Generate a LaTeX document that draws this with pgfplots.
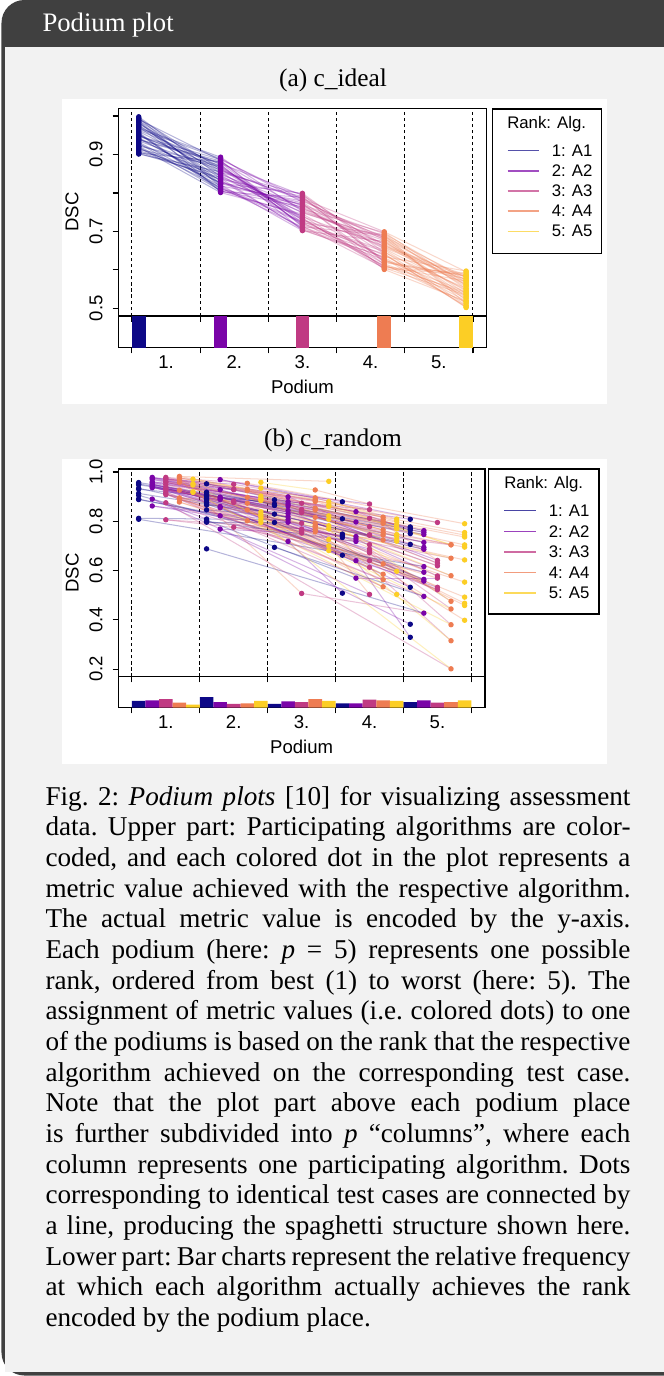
\documentclass[border=0pt]{standalone}
\usepackage{fontspec}
\setmainfont{Liberation Serif}
\setsansfont{Liberation Sans}
\usepackage{pgfplots}
\pgfplotsset{compat=1.18}
\definecolor{c1}{RGB}{13,8,135}
\definecolor{c2}{RGB}{122,4,168}
\definecolor{c3}{RGB}{192,58,131}
\definecolor{c4}{RGB}{238,124,82}
\definecolor{c5}{RGB}{252,206,37}
\definecolor{framecol}{RGB}{64,64,64}
\definecolor{bodycol}{RGB}{242,242,242}
\newcommand\axf{\sffamily\fontsize{7.3}{8.8}\selectfont}
\newcommand\lgf{\sffamily\fontsize{6.6}{8}\selectfont}

% ---------- test case macro: \pcase{rank of A1..A5}{vA1}{vA2}{vA3}{vA4}{vA5}
\newif\ifpdots
\def\pcase#1#2#3#4#5#6{\def\vA{#2}\def\vB{#3}\def\vC{#4}\def\vD{#5}\def\vE{#6}\pcaseR#1\relax}
\def\pcaseR#1#2#3#4#5\relax{%
  \edef\xA{\the\numexpr5*#1-4\relax}%
  \edef\xB{\the\numexpr5*#2-3\relax}%
  \edef\xC{\the\numexpr5*#3-2\relax}%
  \edef\xD{\the\numexpr5*#4-1\relax}%
  \edef\xE{\the\numexpr5*#5\relax}%
  \ifpdots\let\pnext\pdotsadd\else\let\pnext\psegsadd\fi
  \pnext{#1}{#2}{#3}{#4}{#5}}
\def\pdotsadd#1#2#3#4#5{%
  \xdef\dotlist{\dotlist(\xA,\vA)[1](\xB,\vB)[2](\xC,\vC)[3](\xD,\vD)[4](\xE,\vE)[5]}}
\def\psegsadd#1#2#3#4#5{%
  \pseg{#1}{#2}{\xA}{\vA}{\xB}{\vB}{1}{2}%
  \pseg{#2}{#3}{\xB}{\vB}{\xC}{\vC}{2}{3}%
  \pseg{#3}{#4}{\xC}{\vC}{\xD}{\vD}{3}{4}%
  \pseg{#4}{#5}{\xD}{\vD}{\xE}{\vE}{4}{5}}
\def\pseg#1#2#3#4#5#6#7#8{%
  \ifnum#1<#2\relax\def\segc{c#7}\else\def\segc{c#8}\fi
  \edef\segtmp{\noexpand\addplot[seg,\segc] coordinates {(#3,#4)(#5,#6)};}%
  \segtmp}

% ---------- data (a) c_ideal
\def\dataA{%
\pcase{12345}{0.998}{0.842}{0.761}{0.655}{0.548}%
\pcase{12345}{0.991}{0.885}{0.712}{0.690}{0.512}%
\pcase{12345}{0.985}{0.803}{0.789}{0.621}{0.577}%
\pcase{12345}{0.979}{0.867}{0.735}{0.603}{0.589}%
\pcase{12345}{0.972}{0.821}{0.702}{0.674}{0.531}%
\pcase{12345}{0.966}{0.889}{0.776}{0.642}{0.503}%
\pcase{12345}{0.960}{0.851}{0.748}{0.685}{0.566}%
\pcase{12345}{0.953}{0.812}{0.723}{0.611}{0.541}%
\pcase{12345}{0.947}{0.876}{0.794}{0.659}{0.582}%
\pcase{12345}{0.941}{0.833}{0.708}{0.632}{0.519}%
\pcase{12345}{0.935}{0.860}{0.781}{0.678}{0.556}%
\pcase{12345}{0.929}{0.806}{0.741}{0.607}{0.592}%
\pcase{12345}{0.922}{0.872}{0.717}{0.648}{0.508}%
\pcase{12345}{0.916}{0.827}{0.769}{0.694}{0.573}%
\pcase{12345}{0.910}{0.846}{0.731}{0.616}{0.537}%
\pcase{12345}{0.904}{0.881}{0.756}{0.667}{0.561}%
\pcase{12345}{0.995}{0.816}{0.726}{0.638}{0.525}%
\pcase{12345}{0.988}{0.857}{0.785}{0.699}{0.595}%
\pcase{12345}{0.976}{0.838}{0.705}{0.626}{0.543}%
\pcase{12345}{0.969}{0.893}{0.752}{0.681}{0.569}%
\pcase{12345}{0.957}{0.809}{0.771}{0.614}{0.515}%
\pcase{12345}{0.950}{0.864}{0.738}{0.662}{0.586}%
\pcase{12345}{0.944}{0.825}{0.799}{0.645}{0.552}%
\pcase{12345}{0.938}{0.879}{0.714}{0.605}{0.534}%
\pcase{12345}{0.926}{0.848}{0.766}{0.687}{0.579}%
\pcase{12345}{0.919}{0.801}{0.745}{0.629}{0.506}%
\pcase{12345}{0.913}{0.869}{0.729}{0.671}{0.563}%
\pcase{12345}{0.907}{0.836}{0.791}{0.619}{0.585}%
\pcase{12345}{0.901}{0.855}{0.720}{0.652}{0.528}%
\pcase{12345}{0.983}{0.830}{0.758}{0.697}{0.559}%
\pcase{12345}{0.963}{0.874}{0.703}{0.634}{0.597}%
\pcase{12345}{0.932}{0.818}{0.779}{0.683}{0.521}%
\pcase{12345}{0.993}{0.862}{0.733}{0.609}{0.571}%
\pcase{12345}{0.948}{0.887}{0.784}{0.665}{0.545}%
\pcase{12345}{0.921}{0.814}{0.711}{0.641}{0.502}%
\pcase{12345}{0.974}{0.853}{0.796}{0.623}{0.583}%
\pcase{12345}{0.903}{0.840}{0.750}{0.676}{0.538}%
\pcase{12345}{0.955}{0.805}{0.764}{0.657}{0.574}%
\pcase{12345}{0.939}{0.883}{0.722}{0.692}{0.551}%
\pcase{12345}{0.987}{0.824}{0.774}{0.601}{0.518}%
}
% ---------- data (b) c_random
\def\dataB{%
\pcase{42513}{0.879}{0.969}{0.795}{0.982}{0.962}%
\pcase{51432}{0.777}{0.978}{0.870}{0.927}{0.958}%
\pcase{43125}{0.810}{0.899}{0.978}{0.954}{0.790}%
\pcase{23415}{0.952}{0.880}{0.847}{0.976}{0.754}%
\pcase{51234}{0.771}{0.975}{0.950}{0.895}{0.809}%
\pcase{54132}{0.764}{0.839}{0.974}{0.888}{0.934}%
\pcase{35421}{0.887}{0.762}{0.812}{0.930}{0.971}%
\pcase{51234}{0.750}{0.970}{0.930}{0.884}{0.800}%
\pcase{52134}{0.706}{0.928}{0.970}{0.880}{0.786}%
\pcase{51243}{0.808}{0.960}{0.928}{0.817}{0.880}%
\pcase{13542}{0.957}{0.862}{0.641}{0.791}{0.902}%
\pcase{15342}{0.952}{0.746}{0.848}{0.765}{0.893}%
\pcase{14532}{0.934}{0.738}{0.619}{0.792}{0.884}%
\pcase{14532}{0.888}{0.728}{0.578}{0.783}{0.838}%
\pcase{13452}{0.812}{0.806}{0.679}{0.444}{0.806}%
\pcase{12453}{0.948}{0.898}{0.745}{0.704}{0.860}%
\pcase{12453}{0.913}{0.860}{0.613}{0.315}{0.726}%
\pcase{12534}{0.890}{0.822}{0.532}{0.778}{0.726}%
\pcase{13524}{0.930}{0.870}{0.630}{0.924}{0.777}%
\pcase{15423}{0.905}{0.593}{0.640}{0.873}{0.782}%
\pcase{15234}{0.808}{0.616}{0.776}{0.757}{0.719}%
\pcase{25134}{0.918}{0.755}{0.962}{0.853}{0.769}%
\pcase{25134}{0.910}{0.714}{0.958}{0.846}{0.746}%
\pcase{24153}{0.906}{0.797}{0.939}{0.705}{0.866}%
\pcase{25143}{0.894}{0.686}{0.932}{0.724}{0.822}%
\pcase{25143}{0.870}{0.557}{0.918}{0.563}{0.769}%
\pcase{23145}{0.846}{0.819}{0.908}{0.627}{0.458}%
\pcase{24135}{0.800}{0.718}{0.806}{0.765}{0.467}%
\pcase{21345}{0.902}{0.957}{0.873}{0.807}{0.744}%
\pcase{21345}{0.890}{0.948}{0.840}{0.754}{0.695}%
\pcase{21453}{0.876}{0.940}{0.687}{0.475}{0.808}%
\pcase{21435}{0.809}{0.890}{0.503}{0.775}{0.398}%
\pcase{25314}{0.688}{0.427}{0.507}{0.970}{0.503}%
\pcase{23415}{0.866}{0.831}{0.743}{0.926}{0.553}%
\pcase{24513}{0.804}{0.569}{0.569}{0.878}{0.681}%
\pcase{25341}{0.886}{0.694}{0.835}{0.744}{0.952}%
\pcase{23451}{0.796}{0.796}{0.672}{0.380}{0.917}%
\pcase{31452}{0.829}{0.952}{0.705}{0.579}{0.890}%
\pcase{41352}{0.734}{0.944}{0.768}{0.650}{0.827}%
\pcase{31425}{0.870}{0.936}{0.778}{0.897}{0.704}%
\pcase{41325}{0.741}{0.862}{0.792}{0.846}{0.492}%
\pcase{32145}{0.864}{0.893}{0.949}{0.799}{0.736}%
\pcase{52134}{0.532}{0.888}{0.928}{0.816}{0.739}%
\pcase{35142}{0.694}{0.495}{0.912}{0.534}{0.818}%
\pcase{43152}{0.508}{0.718}{0.875}{0.201}{0.795}%
\pcase{42513}{0.662}{0.855}{0.522}{0.958}{0.700}%
\pcase{52314}{0.382}{0.768}{0.752}{0.890}{0.597}%
\pcase{43215}{0.748}{0.844}{0.882}{0.895}{0.643}%
\pcase{35241}{0.795}{0.564}{0.876}{0.585}{0.947}%
\pcase{54321}{0.329}{0.640}{0.760}{0.802}{0.920}%
}

\pgfplotsset{
  seg/.style={no markers, line width=0.4pt, opacity=0.3, forget plot},
  dotsty/.style={only marks, scatter, scatter src=explicit symbolic,
    scatter/classes={1={mark=*,c1},2={mark=*,c2},3={mark=*,c3},4={mark=*,c4},5={mark=*,c5}},
    mark size=0.85pt, forget plot},
  podup/.style={anchor=north west, scale only axis, xmin=-0.5, xmax=26.5, xtick=\empty,
    extra x ticks={0.5,5.5,10.5,15.5,20.5,25.5}, extra x tick labels={},
    extra x tick style={grid=major},
    major grid style={black, line width=0.35pt, dash pattern=on 1.3pt off 1.1pt},
    tick align=outside, tick pos=left, major tick length=2.2pt,
    major tick style={black, line width=0.45pt},
    axis line style={line width=0.5pt},
    yticklabel style={font=\axf, xshift=-6.6pt, rotate=90, anchor=center},
    ylabel={DSC}, ylabel style={font=\axf, at={(axis description cs:-0.1257,0.5)}, anchor=center}},
  podlow/.style={anchor=north west, scale only axis, xmin=-0.5, xmax=26.5, ymin=0, ymax=1,
    ytick=\empty, xtick={3,8,13,18,23}, xticklabels={1.,2.,3.,4.,5.},
    major tick length=0pt,
    extra x ticks={0.5,5.5,10.5,15.5,20.5,25.5}, extra x tick labels={},
    extra x tick style={major tick length=2.2pt},
    tick align=outside, tick pos=left, major tick style={black, line width=0.45pt},
    axis line style={line width=0.5pt},
    xticklabel style={font=\axf, anchor=center, yshift=-5.6pt},
    xlabel={Podium}, xlabel style={font=\axf, anchor=center}},
  bar/.style={ybar, bar width=1, bar shift=0pt, draw=none, forget plot}
}

\begin{document}
\begin{tikzpicture}[x=0.3937pt,y=0.3937pt]
\useasboundingbox (0,0) rectangle (664,-1376);
% frame
\fill[framecol, rounded corners=9] (1.5,-1375.5) rectangle (720,0);
\fill[bodycol] (5,-46.5) rectangle (720,-1372);
\node[anchor=base west, text=white, inner sep=0pt, font=\fontsize{10.5}{12}\selectfont] at (42,-31.5) {Podium plot};
% panels
\fill[white] (62,-98.5) rectangle (607,-404);
\fill[white] (62,-459) rectangle (607,-764);
\node[anchor=base, inner sep=0pt, font=\fontsize{10}{12}\selectfont] at (333,-86) {(a) c\_ideal};
\node[anchor=base, inner sep=0pt, font=\fontsize{10}{12}\selectfont] at (333,-446) {(b) c\_random};

% ===== (a) upper
\begin{axis}[podup, at={(46.57pt,-42.64pt)}, width=145.0pt, height=81.77pt,
  ymin=0.48, ymax=1.02, ytick={0.5,0.6,0.7,0.8,0.9,1.0}, yticklabels={0.5,,0.7,,0.9,}]
\pdotsfalse
\dataA
\gdef\dotlist{}\pdotstrue
\dataA
\edef\dtmp{\noexpand\addplot[dotsty] coordinates {\dotlist};}\dtmp
\end{axis}
% ===== (a) lower
\begin{axis}[podlow, at={(46.57pt,-124.41pt)}, width=145.0pt, height=12.48pt,
  xlabel style={at={(axis description cs:0.5,-1.249)}}]
\addplot[bar, fill=c1] coordinates {(1,1)};
\addplot[bar, fill=c2] coordinates {(7,1)};
\addplot[bar, fill=c3] coordinates {(13,1)};
\addplot[bar, fill=c4] coordinates {(19,1)};
\addplot[bar, fill=c5] coordinates {(25,1)};
\end{axis}

% ===== (b) upper
\begin{axis}[podup, at={(46.57pt,-184.65pt)}, width=144.37pt, height=81.77pt,
  ymin=0.169, ymax=1.012, ytick={0.2,0.4,0.6,0.8,1.0}, yticklabels={0.2,0.4,0.6,0.8,1.0}]
\pdotsfalse
\dataB
\gdef\dotlist{}\pdotstrue
\dataB
\edef\dtmp{\noexpand\addplot[dotsty] coordinates {\dotlist};}\dtmp
\end{axis}
% ===== (b) lower
\begin{axis}[podlow, at={(46.57pt,-266.42pt)}, width=144.37pt, height=12.2pt,
  xlabel style={at={(axis description cs:0.5,-1.277)}}]
\addplot[bar, fill=c1] coordinates {(1,0.22) (6,0.34) (11,0.12) (16,0.14) (21,0.18)};
\addplot[bar, fill=c2] coordinates {(2,0.24) (7,0.18) (12,0.20) (17,0.14) (22,0.24)};
\addplot[bar, fill=c3] coordinates {(3,0.28) (8,0.12) (13,0.18) (18,0.26) (23,0.16)};
\addplot[bar, fill=c4] coordinates {(4,0.16) (9,0.14) (14,0.28) (19,0.24) (24,0.18)};
\addplot[bar, fill=c5] coordinates {(5,0.10) (10,0.22) (15,0.22) (20,0.22) (25,0.24)};
\end{axis}

% ===== legends
\draw[line width=0.45pt] (492.3,-109) rectangle (601.7,-253.3);
\node[font=\lgf] at (546.7,-124) {Rank: Alg.};
\foreach \i/\yy in {1/150.7,2/170.8,3/191.0,4/211.2,5/231.3}{
  \draw[c\i, opacity=0.7, line width=0.6pt] (507.7,-\yy) -- (539.3,-\yy);
  \node[anchor=east, font=\lgf, inner sep=0pt] at (593,-\yy) {\i: A\i};}
\draw[line width=0.45pt] (488.3,-469) rectangle (599,-614);
\node[font=\lgf] at (543.7,-484) {Rank: Alg.};
\foreach \i/\yy in {1/510.7,2/531.3,3/551.9,4/572.5,5/593.1}{
  \draw[c\i, opacity=0.75, line width=0.6pt] (504.3,-\yy) -- (535.7,-\yy);
  \node[anchor=east, font=\lgf, inner sep=0pt] at (590,-\yy) {\i: A\i};}

% ===== caption
\node[anchor=north west, inner sep=0pt, text width=230.3pt, align=justify,
  font=\fontsize{10.7}{12.07}\selectfont] at (45,-785.5) {\frenchspacing\tolerance=9999\emergencystretch=1em\hyphenpenalty=10000\exhyphenpenalty=0
\spaceskip=0.25em plus 0.3em minus 0.12em
Fig.~2: \textit{Podium plots} [10] for visualizing assessment\linebreak
data. Upper part: Participating algorithms are color-\linebreak
coded, and each colored dot in the plot represents a\linebreak
metric value achieved with the respective algorithm.\linebreak
The actual metric value is encoded by the y-axis.\linebreak
Each podium (here: \textit{p}~=~5) represents one possible\linebreak
rank, ordered from best (1) to worst (here: 5). The\linebreak
assignment of metric values (i.e. colored dots) to one\linebreak
of the podiums is based on the rank that the respective\linebreak
algorithm achieved on the corresponding test case.\linebreak
Note that the plot part above each podium place\linebreak
is further subdivided into \textit{p} ``columns'', where each\linebreak
column represents one participating algorithm. Dots\linebreak
corresponding to identical test cases are connected by\linebreak
a line, producing the spaghetti structure shown here.\linebreak
Lower part: Bar charts represent the relative frequency\linebreak
at which each algorithm actually achieves the rank\linebreak
encoded by the podium place.};
\end{tikzpicture}
\end{document}
